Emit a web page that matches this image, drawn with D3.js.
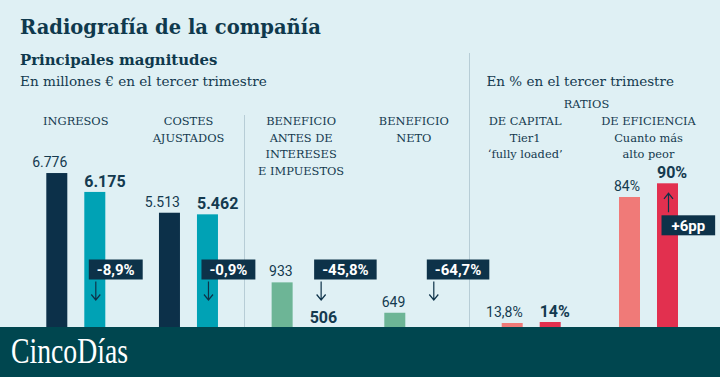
<!DOCTYPE html>
<html>
<head>
<meta charset="utf-8">
<script src="https://cdn.jsdelivr.net/npm/d3@7"></script>
<style>
  body { margin: 0; background: #dff0f4; }
  svg { display: block; }
</style>
</head>
<body>
<div id="chart"></div>
<script>
// data
const panels = ['INGRESOS', 'COSTES AJUSTADOS', 'BENEFICIO ANTES DE INTERESES E IMPUESTOS', 'BENEFICIO NETO', 'DE CAPITAL', 'DE EFICIENCIA'];
const panelLines = [
  ['INGRESOS'],
  ['COSTES', 'AJUSTADOS'],
  ['BENEFICIO', 'ANTES DE', 'INTERESES', 'E IMPUESTOS'],
  ['BENEFICIO', 'NETO'],
  ['DE CAPITAL', 'Tier1', '‘fully loaded’'],
  ['DE EFICIENCIA', 'Cuanto más', 'alto peor']
];
const prevValues = [6776, 5513, 933, 649, 13.8, 84];
const currValues = [6175, 5462, 506, 229, 14, 90];
const changes = ['-8,9%', '-0,9%', '-45,8%', '-64,7%', null, '+6pp'];
const units = ['', '', '', '', '%', '%'];
const prevColors = ['#0c3049', '#0c3049', '#6db596', '#6db596', '#f07a78', '#f07a78'];
const currColors = ['#00a2b5', '#00a2b5', '#6db596', '#6db596', '#e2304f', '#e2304f'];

const width = 720, height = 377;
const navy = '#0d3249', textColor = '#143a4f';
const serif = '"DejaVu Serif", serif';
const sans = 'Roboto, "Liberation Sans", sans-serif';
const footerY = 327;

const es = d3.formatLocale({ decimal: ',', thousands: '.', grouping: [3], currency: ['', '€'] });
const fmt = es.format(',.1~f');

const svg = d3.select('#chart').append('svg')
  .attr('width', width).attr('height', height);

svg.append('rect').attr('width', width).attr('height', height).attr('fill', '#dff0f4');

// each pair of panels sits on its own truncated scale
const yBig = d3.scaleLinear().domain([0, 7000]).range([386, 166]);
const yBen = d3.scaleLinear().domain([0, 1000]).range([382.2, 275.2]);
const yCap = d3.scaleLinear().domain([0, 14]).range([392, 322]);
const yEff = d3.scaleLinear().domain([0, 90]).range([388.8, 183.3]);
const yScales = [yBig, yBig, yBen, yBen, yCap, yEff];

const xLeft = d3.scalePoint().domain(panels.slice(0, 4)).range([75.8, 413.8]);
const xRight = d3.scalePoint().domain(panels.slice(4)).range([531.2, 648.5]);
const xCenter = (p) => xLeft.domain().includes(p) ? xLeft(p) : xRight(p);

const barW = 21, gap = 17;

// headings
svg.append('text').attr('x', 20).attr('y', 33.5)
  .attr('font-family', serif).attr('font-weight', 'bold').attr('font-size', '19.5px')
  .attr('fill', '#0f394d').text('Radiografía de la compañía');
svg.append('text').attr('x', 20).attr('y', 65)
  .attr('font-family', serif).attr('font-weight', 'bold').attr('font-size', '14.9px')
  .attr('fill', '#0f394d').text('Principales magnitudes');
svg.append('text').attr('x', 20).attr('y', 86)
  .attr('font-family', serif).attr('font-size', '13.6px')
  .attr('fill', textColor).text('En millones € en el tercer trimestre');
svg.append('text').attr('x', 486.5).attr('y', 86)
  .attr('font-family', serif).attr('font-size', '13.5px')
  .attr('fill', textColor).text('En % en el tercer trimestre');
svg.append('text').attr('x', 586.5).attr('y', 108)
  .attr('font-family', serif).attr('font-size', '11.4px')
  .attr('text-anchor', 'middle')
  .attr('fill', textColor).text('RATIOS');

// dividers
svg.append('line').attr('x1', 244.5).attr('x2', 244.5).attr('y1', 115).attr('y2', footerY)
  .attr('stroke', '#b7cdd6').attr('stroke-width', 1);
svg.append('line').attr('x1', 469.5).attr('x2', 469.5).attr('y1', 53).attr('y2', footerY)
  .attr('stroke', '#b7cdd6').attr('stroke-width', 1);

// panel labels
panels.forEach((p, i) => {
  const lx = xCenter(p) - (i === 4 ? 6 : 0);
  const t = svg.append('text')
    .attr('x', lx).attr('y', 125)
    .attr('font-family', serif).attr('font-size', '11.4px')
    .attr('text-anchor', 'middle').attr('fill', textColor);
  panelLines[i].forEach((line, j) => {
    t.append('tspan').attr('x', lx)
      .attr('dy', j === 0 ? 0 : 16.5).text(line);
  });
});

const rows = panels.map((p, i) => ({
  p, i, prev: prevValues[i], curr: currValues[i], change: changes[i], unit: units[i], y: yScales[i]
}));

const g = svg.append('g');

// previous year bars
g.selectAll('rect.prev').data(rows).enter().append('rect')
  .attr('class', 'prev')
  .attr('x', d => xCenter(d.p) - gap / 2 - barW)
  .attr('y', d => d.y(d.prev))
  .attr('width', barW)
  .attr('height', d => d.y(0) - d.y(d.prev))
  .attr('fill', d => prevColors[d.i]);

// current year bars
g.selectAll('rect.curr').data(rows).enter().append('rect')
  .attr('class', 'curr')
  .attr('x', d => xCenter(d.p) + gap / 2)
  .attr('y', d => d.y(d.curr))
  .attr('width', barW)
  .attr('height', d => d.y(0) - d.y(d.curr))
  .attr('fill', d => currColors[d.i]);

g.selectAll('text.prev').data(rows).enter().append('text')
  .attr('x', d => xCenter(d.p) - gap / 2)
  .attr('y', d => d.y(d.prev) - 6)
  .attr('text-anchor', 'end')
  .attr('font-family', sans).attr('font-size', '14px')
  .attr('fill', textColor)
  .text(d => fmt(d.prev) + d.unit);

g.selectAll('text.curr').data(rows).enter().append('text')
  .attr('x', d => xCenter(d.p) + gap / 2)
  .attr('y', d => d.y(d.curr) - 5)
  .attr('font-family', sans).attr('font-size', '16px').attr('font-weight', 'bold')
  .attr('fill', textColor)
  .text(d => fmt(d.curr) + d.unit);

// change annotations
rows.filter(d => d.change).forEach(d => {
  const cx = xCenter(d.p) + gap / 2 + barW / 2;
  const up = d.change[0] === '+';
  const boxY = up ? d.y(d.curr) + 32 : 259.5;
  const ann = g.append('g');
  const rect = ann.append('rect').attr('fill', navy);
  const label = ann.append('text')
    .attr('font-family', sans).attr('font-size', '15px').attr('font-weight', 'bold')
    .attr('fill', '#fff').text(d.change);
  const tw = label.node().getComputedTextLength();
  const bw = tw + (up ? 20 : 16);
  const bx = cx - 6;
  rect.attr('x', bx).attr('y', boxY).attr('width', bw).attr('height', 20);
  label.attr('x', bx + bw / 2).attr('y', boxY + 15.5).attr('text-anchor', 'middle');

  const ax = cx + 1;
  const y0 = up ? boxY - 3 : boxY + 22;
  const y1 = up ? d.y(d.curr) + 10 : 300;
  const dir = up ? 1 : -1;
  ann.append('path')
    .attr('d', `M${ax},${y0}L${ax},${y1}M${ax - 4.5},${y1 + dir * 5.5}L${ax},${y1}L${ax + 4.5},${y1 + dir * 5.5}`)
    .attr('fill', 'none').attr('stroke', navy).attr('stroke-width', 1.2);
});

// footer
svg.append('rect').attr('x', 0).attr('y', footerY).attr('width', width).attr('height', height - footerY)
  .attr('fill', '#00464f');
svg.append('text').attr('x', 11).attr('y', 362.5)
  .attr('font-family', '"Liberation Serif", serif').attr('font-size', '35px')
  .attr('textLength', 117).attr('lengthAdjust', 'spacingAndGlyphs')
  .attr('fill', '#fff').text('CincoDías');
</script>
</body>
</html>
